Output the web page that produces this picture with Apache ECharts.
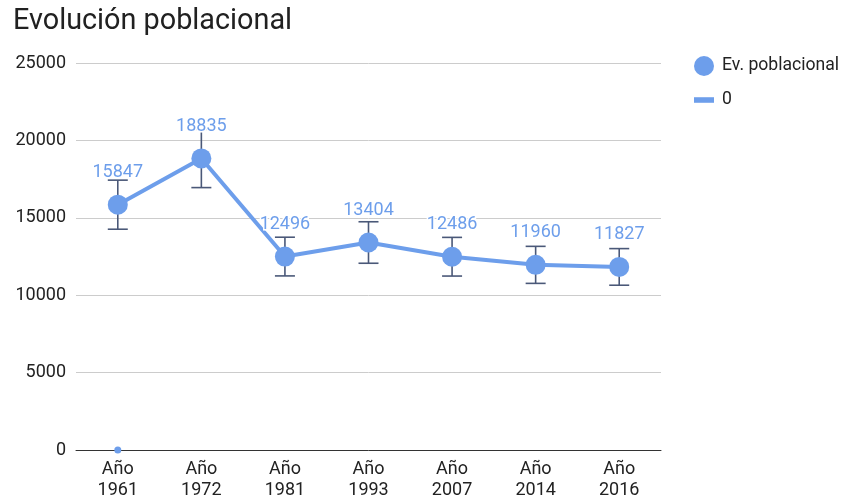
<!DOCTYPE html>
<html>
<head>
<meta charset="utf-8">
<script src="https://cdn.jsdelivr.net/npm/echarts@6/dist/echarts.min.js"></script>
<style>
  html, body { margin: 0; padding: 0; background: #fff; }
  #chart { width: 842px; height: 501px; }
</style>
</head>
<body>
<div id="chart"></div>
<script>
// Census years and population counts
const years = ['Año\n1961', 'Año\n1972', 'Año\n1981', 'Año\n1993', 'Año\n2007', 'Año\n2014', 'Año\n2016'];
const population = [15847, 18835, 12496, 13404, 12486, 11960, 11827];
// Error bar half-widths (± around each value)
const errors = [1585, 1884, 1250, 1340, 1249, 1196, 1183];
// Secondary series "0"
const zeroSeries = [0, null, null, null, null, null, null];

const blue = '#6d9eeb';
const errColor = '#4a5878';

const errData = population.map((v, i) => [i, v - errors[i], v + errors[i]]);

const chart = echarts.init(document.getElementById('chart'));
chart.setOption({
  animation: false,
  backgroundColor: '#fff',
  title: {
    text: 'Evolución poblacional',
    left: 8,
    top: 2,
    textStyle: { fontFamily: 'Roboto', fontSize: 28.8, fontWeight: 'normal', color: '#212121' }
  },
  legend: {
    orient: 'vertical',
    left: 689,
    top: 51,
    itemGap: 15,
    itemWidth: 20,
    itemHeight: 20,
    itemStyle: {},
    textStyle: { fontFamily: 'Roboto', fontSize: 17.6, color: '#222', padding: [0, 0, 0, 3] },
    data: [
      { name: 'Ev. poblacional', icon: 'circle' },
      { name: '0', icon: 'path://M0,8h18v5h-18z' }
    ]
  },
  grid: { left: 76, right: 181, top: 63, bottom: 50 },
  xAxis: {
    type: 'category',
    data: years,
    boundaryGap: true,
    axisLine: { show: true, lineStyle: { color: '#333', width: 1 } },
    axisTick: { show: false },
    axisLabel: {
      fontFamily: 'Roboto', fontSize: 18, color: '#222', lineHeight: 21, margin: 9
    }
  },
  yAxis: {
    type: 'value',
    min: 0,
    max: 25000,
    interval: 5000,
    axisLine: { show: false },
    axisTick: { show: false },
    splitLine: { lineStyle: { color: '#cccccc', width: 1 } },
    axisLabel: {
      fontFamily: 'Roboto', fontSize: 18, color: '#222', margin: 10,
      formatter: function (v) { return String(v); }
    }
  },
  series: [
    {
      name: '0',
      type: 'line',
      data: zeroSeries,
      color: blue,
      symbol: 'circle',
      symbolSize: 7,
      lineStyle: { width: 4, color: blue },
      z: 1
    },
    {
      type: 'custom',
      name: 'err',
      data: errData,
      z: 3,
      silent: true,
      renderItem: function (params, api) {
        const x = api.value(0);
        const lo = api.coord([x, api.value(1)]);
        const hi = api.coord([x, api.value(2)]);
        const hw = 10;
        const style = { stroke: errColor, lineWidth: 1.6, fill: null };
        return {
          type: 'group',
          children: [
            { type: 'line', shape: { x1: lo[0], y1: lo[1], x2: hi[0], y2: hi[1] }, style: style },
            { type: 'line', shape: { x1: lo[0] - hw, y1: lo[1], x2: lo[0] + hw, y2: lo[1] }, style: style },
            { type: 'line', shape: { x1: hi[0] - hw, y1: hi[1], x2: hi[0] + hw, y2: hi[1] }, style: style }
          ]
        };
      }
    },
    {
      name: 'Ev. poblacional',
      type: 'line',
      data: population,
      color: blue,
      symbol: 'circle',
      symbolSize: 20,
      lineStyle: { width: 4, color: blue },
      z: 4,
      label: {
        show: true,
        position: 'top',
        distance: 13,
        fontFamily: 'Roboto',
        fontSize: 18,
        color: blue,
        textBorderColor: '#fff',
        textBorderWidth: 3
      }
    }
  ]
});
</script>
</body>
</html>
